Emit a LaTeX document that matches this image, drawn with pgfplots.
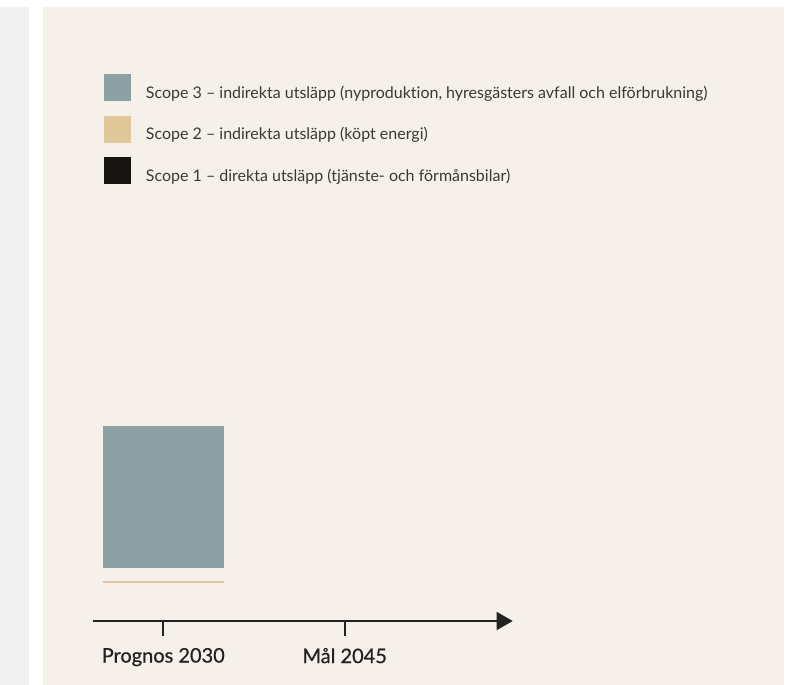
\documentclass[border=0pt]{standalone}
\usepackage{fontspec}
\setmainfont{Lato}[Ligatures=NoCommon]
\newfontfamily\labelfont[FakeBold=0.6,Ligatures=NoCommon]{Lato}
\usepackage{pgfplots}
\pgfplotsset{compat=1.18}
\usetikzlibrary{arrows.meta}
\definecolor{bg}{HTML}{F5F1EA}
\definecolor{strip}{HTML}{F1F1F1}
\definecolor{sthree}{HTML}{8DA0A3}
\definecolor{stwo}{HTML}{DFC99B}
\definecolor{sone}{HTML}{171512}
\definecolor{txt}{HTML}{3A3835}
\definecolor{axc}{HTML}{222222}
\begin{document}
\begin{tikzpicture}
\begin{scope}[x=0.75pt,y=-0.75pt]
\path[use as bounding box, fill=white] (0,0) rectangle (789,685);
\fill[strip] (0,7) rectangle (29,685);
\fill[bg] (43,7) rectangle (784,685);
\end{scope}
\begin{axis}[
  at={(69.525pt,-465.75pt)}, anchor=south west,
  scale only axis, width=315pt, height=420.75pt,
  xmin=-0.389, xmax=1.926, ymin=-38, ymax=523,
  ybar stacked, bar width=91.1pt,
  axis x line=bottom, axis y line=none,
  x axis line style={axc, line width=1.1pt, -{Triangle[length=12pt,width=13.5pt]}},
  xtick={0,1}, xticklabels={Prognos 2030, Mål 2045},
  tick align=outside, major tick length=11.25pt,
  every tick/.style={axc, line width=1.3pt},
  every major tick/.style={axc, line width=1.3pt},
  xticklabel style={font=\labelfont\fontsize{15}{18}\selectfont, text=axc, yshift=-5.5pt},
  reverse legend,
  legend cell align=left,
  legend style={at={(0.0269,0.975)}, anchor=north west, draw=none, fill=none,
    inner sep=0pt, row sep=10.9pt, column sep=11pt,
    font=\fontsize{12}{14}\selectfont, text=txt,
    nodes={inner sep=0pt}},
  legend image code/.code={\fill[#1] (0pt,-6.2pt) rectangle (20.25pt,14.05pt);},
]
\addplot[fill=sone, draw=none] coordinates {(0,0) (1,0)};
\addlegendentry{Scope 1 – direkta utsläpp (tjänste- och förmånsbilar)}
\addplot[fill=stwo, draw=none] coordinates {(0,2) (1,0)};
\addlegendentry{Scope 2 – indirekta utsläpp (köpt energi)}
\addplot[fill=none, draw=none, forget plot] coordinates {(0,13) (1,0)};
\addplot[fill=sthree, draw=none] coordinates {(0,142) (1,0)};
\addlegendentry{Scope 3 – indirekta utsläpp (nyproduktion, hyresgästers avfall och elförbrukning)}
\end{axis}
\end{tikzpicture}
\end{document}
